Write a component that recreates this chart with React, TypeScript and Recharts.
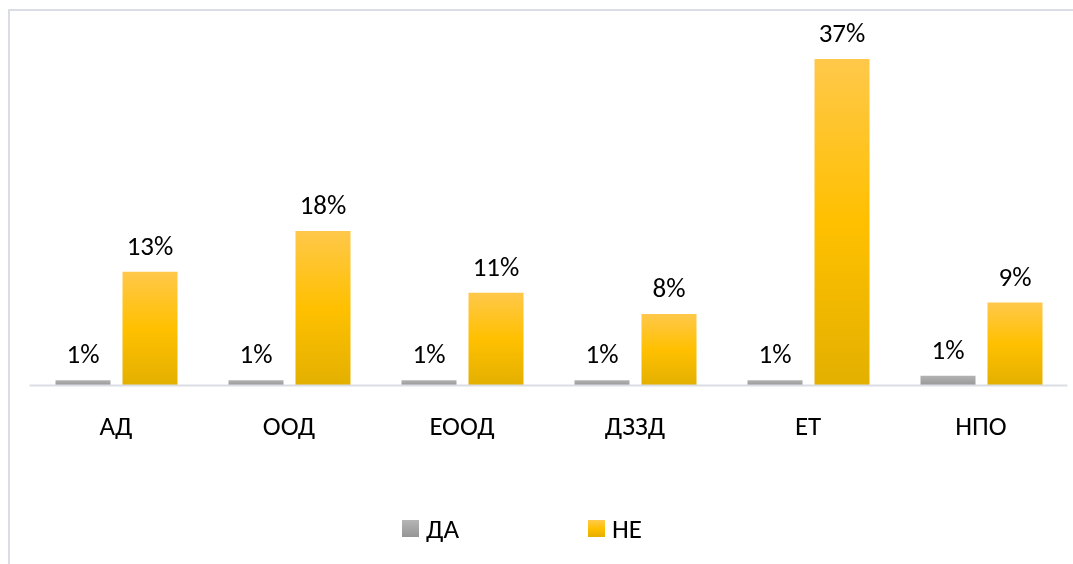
import { BarChart, Bar, XAxis, YAxis, Legend, LabelList } from "recharts";

// категории и стойности (в %)
const categories = ["АД", "ООД", "ЕООД", "ДЗЗД", "ЕТ", "НПО"];
const daValues = [0.6, 0.6, 0.6, 0.6, 0.6, 1.1];
const neValues = [12.9, 17.5, 10.5, 8.1, 37, 9.4];

const data = categories.map((name, i) => ({
  name,
  da: daValues[i],
  ne: neValues[i],
}));

const FONT = "Carlito, Lato, sans-serif";
const FS = 27;

const legendItems = [
  { label: "ДА", top: "#b5b5b5", mid: "#a5a5a5", bottom: "#959595" },
  { label: "НЕ", top: "#ffcb4d", mid: "#ffc000", bottom: "#e6ad00" },
];

function renderLegend() {
  return (
    <div style={{ display: "flex", paddingLeft: 402, fontFamily: FONT, fontSize: FS, color: "#000" }}>
      {legendItems.map((it, i) => (
        <div key={it.label} style={{ display: "flex", alignItems: "center", width: i === 0 ? 186 : "auto" }}>
          <svg width={17} height={17} style={{ marginRight: 7 }}>
            <defs>
              <linearGradient id={`lg${i}`} x1="0" y1="0" x2="0" y2="1">
                <stop offset="0%" stopColor={it.top} />
                <stop offset="50%" stopColor={it.mid} />
                <stop offset="100%" stopColor={it.bottom} />
              </linearGradient>
            </defs>
            <rect width={17} height={17} fill={`url(#lg${i})`} />
          </svg>
          <span>{it.label}</span>
        </div>
      ))}
    </div>
  );
}

export default function App() {
  return (
    <div>
      <div
        style={{
          position: "fixed",
          left: 8,
          top: 9,
          width: 1065,
          height: 555,
          borderTop: "2px solid #dadee4",
          borderLeft: "2px solid #dadee4",
          boxSizing: "border-box",
        }}
      />
      <div style={{ position: "fixed", left: 0, top: 0 }}>
        <BarChart
          width={1073}
          height={564}
          data={data}
          margin={{ top: 32.5, right: 5.5, bottom: 88.5, left: 29.5 }}
          barSize={55}
          barGap={12}
        >
          <defs>
            <linearGradient id="gradYellow" x1="0" y1="0" x2="0" y2="1">
              <stop offset="0%" stopColor="#ffc84a" />
              <stop offset="50%" stopColor="#ffc000" />
              <stop offset="100%" stopColor="#e3b000" />
            </linearGradient>
            <linearGradient id="gradGray" x1="0" y1="0" x2="0" y2="1">
              <stop offset="0%" stopColor="#b3b3b3" />
              <stop offset="50%" stopColor="#a5a5a5" />
              <stop offset="100%" stopColor="#979797" />
            </linearGradient>
          </defs>
          <XAxis
            dataKey="name"
            height={60}
            tickLine={false}
            tickSize={0}
            tickMargin={30}
            axisLine={{ stroke: "#dadee4", strokeWidth: 2 }}
            tick={{ fontSize: FS, fill: "#000", fontFamily: FONT }}
          />
          <YAxis hide domain={[0, 40]} />
          <Legend
            verticalAlign="bottom"
            height={30}
            content={renderLegend}
            wrapperStyle={{ top: 512, bottom: "auto", left: 0, width: 1073 }}
          />
          <Bar dataKey="da" name="ДА" fill="url(#gradGray)" isAnimationActive={false}>
            <LabelList
              dataKey="da"
              position="top"
              offset={17}
              formatter={(v: number) => `${Math.round(v)}%`}
              style={{ fontSize: FS, fill: "#000", fontFamily: FONT }}
            />
          </Bar>
          <Bar dataKey="ne" name="НЕ" fill="url(#gradYellow)" isAnimationActive={false}>
            <LabelList
              dataKey="ne"
              position="top"
              offset={17}
              formatter={(v: number) => `${Math.round(v)}%`}
              style={{ fontSize: FS, fill: "#000", fontFamily: FONT }}
            />
          </Bar>
        </BarChart>
      </div>
    </div>
  );
}
